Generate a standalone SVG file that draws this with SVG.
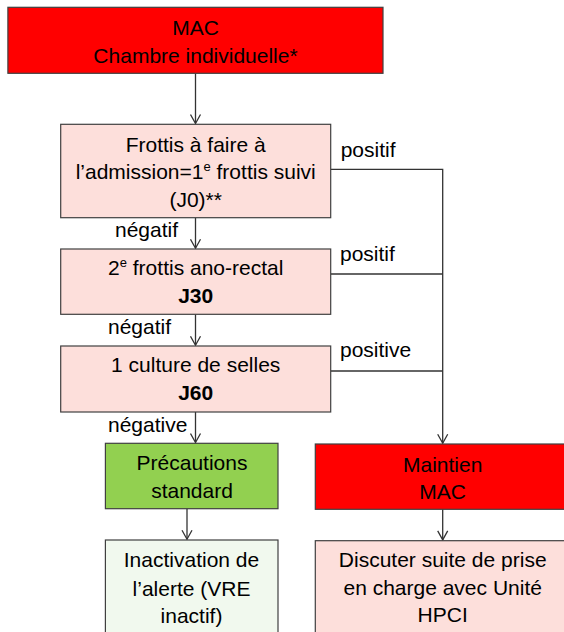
<svg xmlns="http://www.w3.org/2000/svg" width="564" height="632" viewBox="0 0 564 632">
<defs>
<style>
.box{stroke:#404040;stroke-width:1.2}
.red{fill:#FF0000}
.pink{fill:#FDDFDB}
.green{fill:#92D050}
.lgreen{fill:#F1F9EE}
text{font-family:"Liberation Sans",Arial,sans-serif;font-size:21px;fill:#000}
.c{text-anchor:middle}
.b{font-weight:bold}
.sup{font-size:13px}
.ln{fill:none;stroke:#333;stroke-width:1.3}
</style>
<marker id="arr" markerWidth="12" markerHeight="12" viewBox="-10 -6 12 12" refX="0" refY="0" orient="auto" markerUnits="userSpaceOnUse">
<path d="M-9,-5 L0,0 L-9,5" fill="none" stroke="#333" stroke-width="1.3"/>
</marker>
</defs>
<rect width="564" height="632" fill="#fff"/>
<g id="connectors">
<path class="ln" d="M195.5,73.3 V123.5" marker-end="url(#arr)"/>
<path class="ln" d="M195.5,217.7 V248.2" marker-end="url(#arr)"/>
<path class="ln" d="M195.5,314.3 V345.2" marker-end="url(#arr)"/>
<path class="ln" d="M195.5,412 V442.5" marker-end="url(#arr)"/>
<path class="ln" d="M187,508.7 V539.2" marker-end="url(#arr)"/>
<path class="ln" d="M330.7,169.3 H442.7 V443.2" marker-end="url(#arr)"/>
<path class="ln" d="M330.7,274 H442.7"/>
<path class="ln" d="M330.7,371 H442.7"/>
<path class="ln" d="M442.7,509.3 V539.9" marker-end="url(#arr)"/>
<text x="340.7" y="156.7">positif</text>
<text x="340" y="260.7">positif</text>
<text x="340" y="356.7">positive</text>
<text x="115" y="236.7">négatif</text>
<text x="108" y="334.3">négatif</text>
<text x="108" y="431.7">négative</text>
</g>
<g id="mac">
<rect class="box red" x="7.9" y="7.3" width="375.1" height="66"/>
<text class="c" x="195.5" y="35">MAC</text>
<text class="c" x="195.5" y="63.3">Chambre individuelle*</text>
</g>
<g id="frottis1">
<rect class="box pink" x="60.7" y="124.3" width="270" height="93.4"/>
<text class="c" x="195.7" y="151.7">Frottis à faire à</text>
<text class="c" x="195.7" y="179.3">l’admission=1<tspan class="sup" dy="-8">e</tspan><tspan dy="8"> frottis suivi</tspan></text>
<text class="c" x="195.7" y="206.7">(J0)**</text>
</g>
<g id="frottis2">
<rect class="box pink" x="60.7" y="249" width="270" height="65.3"/>
<text class="c" x="195.7" y="275">2<tspan class="sup" dy="-8">e</tspan><tspan dy="8"> frottis ano-rectal</tspan></text>
<text class="c b" x="195.7" y="303.3">J30</text>
</g>
<g id="culture">
<rect class="box pink" x="60.7" y="346" width="270" height="66"/>
<text class="c" x="195.7" y="372.3">1 culture de selles</text>
<text class="c b" x="195.7" y="400">J60</text>
</g>
<g id="precautions">
<rect class="box green" x="105.4" y="443.3" width="172.6" height="65.4"/>
<text class="c" x="192" y="470">Précautions</text>
<text class="c" x="192" y="497.7">standard</text>
</g>
<g id="inactivation">
<rect class="box lgreen" x="105.4" y="540" width="172.6" height="100"/>
<text class="c" x="191.5" y="566.7">Inactivation de</text>
<text class="c" x="191.5" y="595.7">l’alerte (VRE</text>
<text class="c" x="191.5" y="622.7">inactif)</text>
</g>
<g id="maintien">
<rect class="box red" x="315.3" y="444" width="255" height="65.3"/>
<text class="c" x="442.7" y="471.7">Maintien</text>
<text class="c" x="442.7" y="499">MAC</text>
</g>
<g id="discuter">
<rect class="box pink" x="315.3" y="540.7" width="255" height="100"/>
<text class="c" x="442.7" y="567.3">Discuter suite de prise</text>
<text class="c" x="442.7" y="595">en charge avec Unité</text>
<text class="c" x="442.7" y="621.7">HPCI</text>
</g>
</svg>
